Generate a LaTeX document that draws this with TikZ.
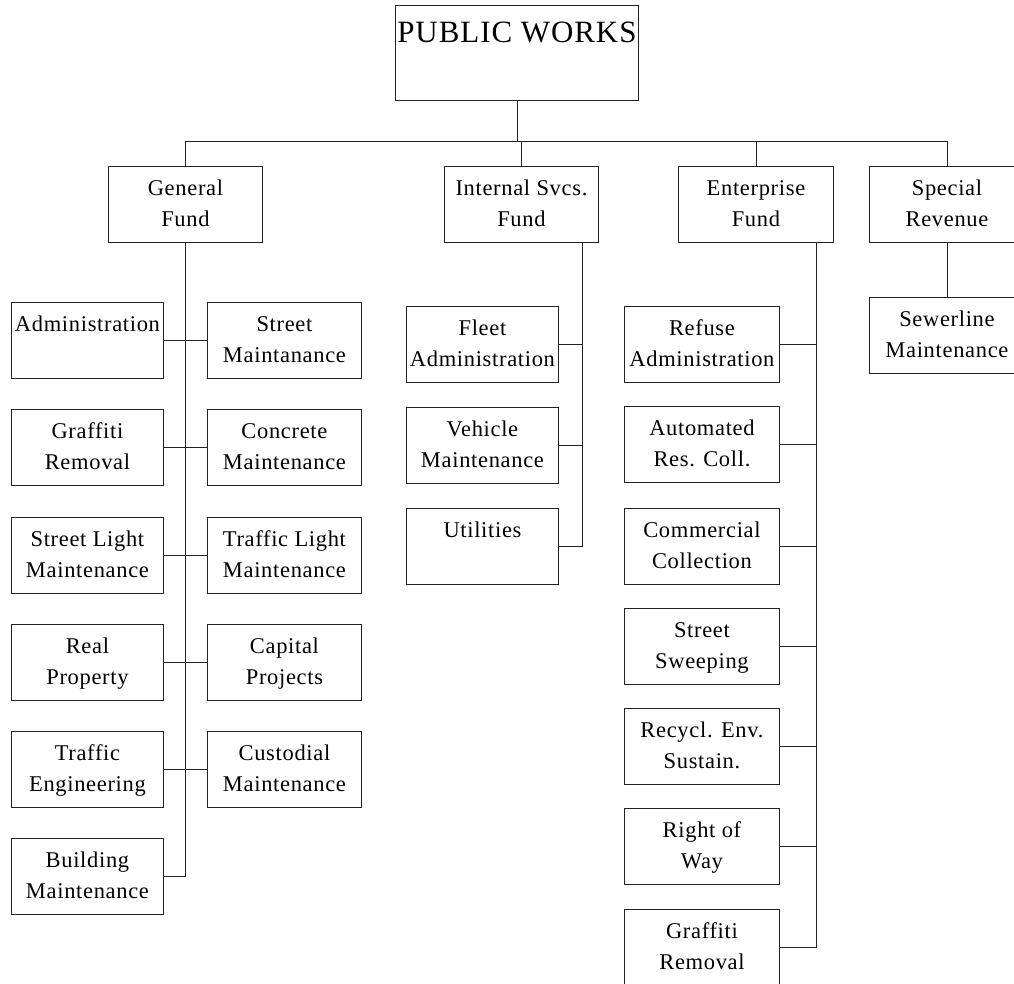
\documentclass[tikz,border=0pt]{standalone}
\usepackage{fontspec}
\setmainfont{Liberation Serif}[LetterSpace=3]
\newcommand\tl[1]{\begin{tabular}[t]{@{}c@{}}#1\end{tabular}}
\definecolor{ink}{HTML}{222222}
\tikzset{
  x=1pt, y=-1pt,
  line/.style={line width=0.9pt, ink},
  box/.style={draw=ink, line width=0.9pt, inner sep=0pt, anchor=north west,
    font=\fontsize{22.5}{31}\selectfont, text height=29pt, text depth=47pt,
    minimum height=76pt, minimum width=#1},
  box/.default=154pt,
  topbox/.style={draw=ink, line width=0.9pt, inner sep=0pt, anchor=north west,
    font=\fontsize{31}{36}\selectfont, text height=37pt, text depth=58pt,
    minimum height=95pt, minimum width=243pt}
}
\begin{document}
\begin{tikzpicture}
\useasboundingbox (0,0) rectangle (1014,983);
% top
\node[topbox] (pw) at (395,5) {PUBLIC WORKS};
% funds
\node[box] (gf) at (108,166) {\tl{General\\Fund}};
\node[box] (isf) at (444,166) {\tl{Internal Svcs.\\Fund}};
\node[box=155pt] (ef) at (678,166) {\tl{Enterprise\\Fund}};
\node[box=155pt] (sr) at (869,166) {\tl{Special\\Revenue}};
% general fund children
\node[box=152pt] (adm) at (11,302) {\tl{Administration}};
\node[box=152pt] (gr) at (11,409) {\tl{Graffiti\\Removal}};
\node[box=152pt] (slm) at (11,517) {\tl{Street Light\\Maintenance}};
\node[box=152pt] (rp) at (11,624) {\tl{Real\\Property}};
\node[box=152pt] (te) at (11,731) {\tl{Traffic\\Engineering}};
\node[box=152pt] (bm) at (11,838) {\tl{Building\\Maintenance}};
\node[box] (sm) at (207,302) {\tl{Street\\Maintanance}};
\node[box] (cm) at (207,409) {\tl{Concrete\\Maintenance}};
\node[box] (tlm) at (207,517) {\tl{Traffic Light\\Maintenance}};
\node[box] (cp) at (207,624) {\tl{Capital\\Projects}};
\node[box] (cu) at (207,731) {\tl{Custodial\\Maintenance}};
% internal svcs children
\node[box=152pt] (fa) at (406,306) {\tl{Fleet\\Administration}};
\node[box=152pt] (vm) at (406,407) {\tl{Vehicle\\Maintenance}};
\node[box=152pt] (ut) at (406,508) {\tl{Utilities}};
% enterprise children
\node[box=155pt] (ra) at (624,306) {\tl{Refuse\\Administration}};
\node[box=155pt] (arc) at (624,406) {\tl{Automated\\Res. Coll.}};
\node[box=155pt] (cc) at (624,508) {\tl{Commercial\\Collection}};
\node[box=155pt] (ss) at (624,608) {\tl{Street\\Sweeping}};
\node[box=155pt] (res) at (624,708) {\tl{Recycl. Env.\\Sustain.}};
\node[box=155pt] (rw) at (624,808) {\tl{Right of\\Way}};
\node[box=155pt] (gr2) at (624,909) {\tl{Graffiti\\Removal}};
% special revenue child
\node[box=155pt] (sew) at (869,297) {\tl{Sewerline\\Maintenance}};
% connectors
\coordinate (busL) at (185,141);
\coordinate (busR) at (947,141);
\draw[line] (busL) -- (busR);
\draw[line] (pw.south) -- (pw.south |- busL);
\draw[line] (gf.north) -- (gf.north |- busL);
\draw[line] (isf.north) -- (isf.north |- busL);
\draw[line] (ef.north) -- (ef.north |- busL);
\draw[line] (sr.north) -- (sr.north |- busL);
% general trunk
\draw[line] (gf.south) |- (bm.east);
\draw[line] (adm.east) -- (sm.west);
\draw[line] (gr.east) -- (cm.west);
\draw[line] (slm.east) -- (tlm.west);
\draw[line] (rp.east) -- (cp.west);
\draw[line] (te.east) -- (cu.west);
% internal trunk
\coordinate (isT) at (582,242);
\draw[line] (isT) |- (ut.east);
\draw[line] (fa.east) -- (fa.east -| isT);
\draw[line] (vm.east) -- (vm.east -| isT);
% enterprise trunk
\coordinate (efT) at (816,242);
\draw[line] (efT) |- (gr2.east);
\foreach \n in {ra,arc,cc,ss,res,rw}
  \draw[line] (\n.east) -- (\n.east -| efT);
% special
\draw[line] (sr.south) -- (sew.north);
\end{tikzpicture}
\end{document}
